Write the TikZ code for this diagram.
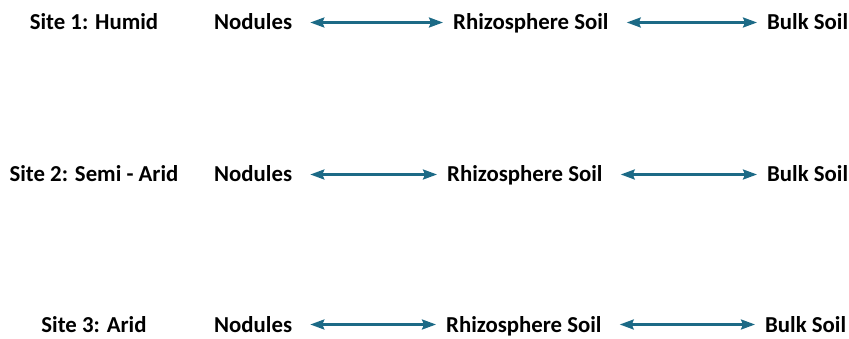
\documentclass[tikz,border=0pt]{standalone}
\usepackage{fontspec}
\setmainfont{Carlito}
\usetikzlibrary{
  arrows.meta,
  positioning,
}
\definecolor{linkteal}{RGB}{28,106,134}
\tikzset{
  font=\fontsize{22.8}{27}\selectfont\bfseries,
  site/.style={
    anchor=base,
    inner sep=0pt
  },
  sample/.style={
    anchor=base west,
    inner sep=0pt,
    text height=15pt,
    text depth=0pt
  },
  link/.style={
    {Stealth[length=14pt,width=10pt,inset=2pt]}-{Stealth[length=14pt,width=10pt,inset=2pt]},
    draw=linkteal,
    line width=2.4pt,
    shorten <=18pt,
    shorten >=10pt
  }
}
\begin{document}
\begin{tikzpicture}[x=1pt,y=-1pt]
\useasboundingbox (0,0) rectangle (849,339);
% site 1
\node[site]   (s1) at (94,30)  {Site 1: Humid};
\node[sample] (n1) at (214,30) {Nodules};
\node[sample] (r1) at (453,30) {Rhizosphere Soil};
\node[sample] (b1) at (767,30) {Bulk Soil};
% site 2
\node[site]   (s2) at (94,182)  {Site 2: Semi - Arid};
\node[sample] (n2) at (214,182) {Nodules};
\node[sample] (r2) at (447,182) {Rhizosphere Soil};
\node[sample] (b2) at (767,182) {Bulk Soil};
% site 3
\node[site]   (s3) at (94,332)  {Site 3: Arid};
\node[sample] (n3) at (214,332) {Nodules};
\node[sample] (r3) at (446,332) {Rhizosphere Soil};
\node[sample] (b3) at (765,332) {Bulk Soil};
\draw[link] (n1.east) -- (r1.west);
\draw[link] (r1.east) -- (b1.west);
\draw[link] (n2.east) -- (r2.west);
\draw[link] (r2.east) -- (b2.west);
\draw[link] (n3.east) -- (r3.west);
\draw[link] (r3.east) -- (b3.west);
\end{tikzpicture}
\end{document}
